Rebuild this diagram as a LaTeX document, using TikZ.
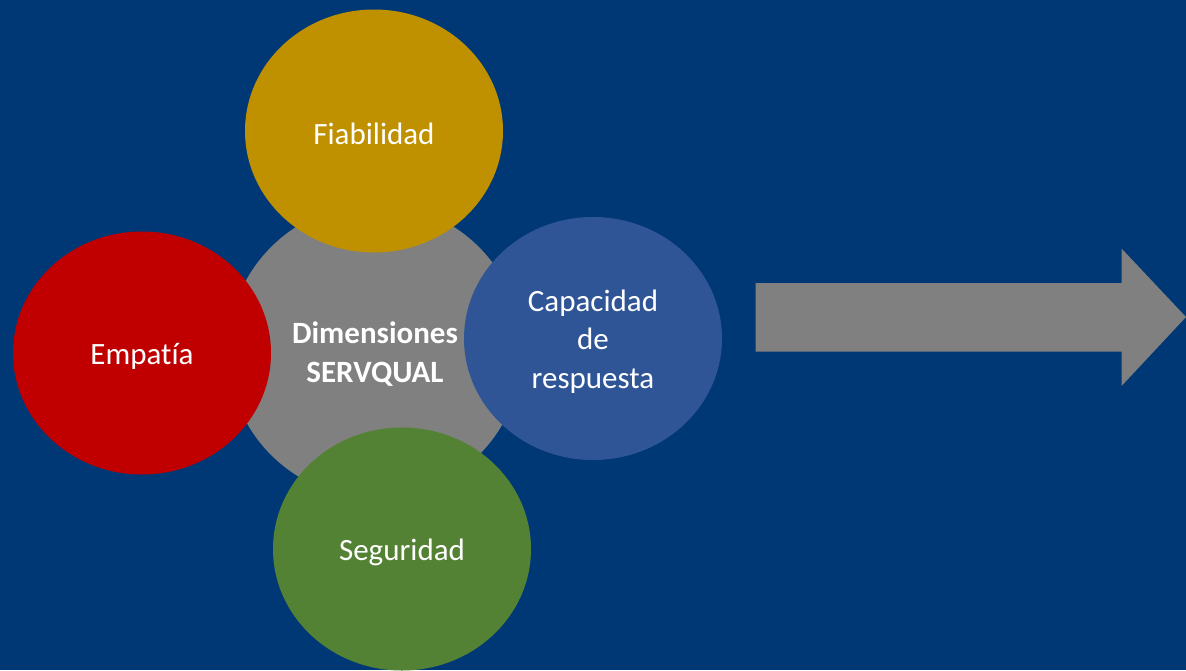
\documentclass[tikz,border=0pt]{standalone}
\usepackage{fontspec}
\setmainfont[Ligatures={NoCommon,NoDiscretionary}]{Carlito}
\usetikzlibrary{shapes.geometric}
\definecolor{bgblue}{HTML}{003876}
\definecolor{cgray}{HTML}{808080}
\definecolor{cgold}{HTML}{BF9000}
\definecolor{cred}{HTML}{C00000}
\definecolor{cblue}{HTML}{2F5597}
\definecolor{cgreen}{HTML}{548235}
\tikzset{
  bubble/.style={ellipse, draw=none, inner sep=0pt, minimum width=258pt, minimum height=243pt},
  btext/.style={text=white, align=center, inner sep=0pt, yshift=-3pt, font=\fontsize{31}{38.5}\selectfont},
}
\begin{document}
\begin{tikzpicture}[x=1pt,y=-1pt]
\fill[bgblue] (0,0) rectangle (1186,670);
\useasboundingbox (0,0) rectangle (1186,670);
\node[bubble, fill=cgray, minimum width=294pt, minimum height=294pt] (center) at (375,351) {};
\node[bubble, fill=cgold] (fia) at (374,131) {};
\node[bubble, fill=cred] (emp) at (142,353) {};
\node[bubble, fill=cblue] (cap) at (593,338.5) {};
\node[bubble, fill=cgreen] (seg) at (402,549) {};
\node[btext, font=\bfseries\fontsize{31}{38.5}\selectfont] (lcenter) at (center.center) {Dimensiones\\SERVQUAL};
\node[btext] (lfia) at (fia.center) {Fiabilidad};
\node[btext] (lemp) at (emp.center) {Empatía};
\node[btext] (lcap) at (cap.center) {Capacidad\\de\\respuesta};
\node[btext] (lseg) at (seg.center) {Seguridad};
\fill[cgray] (755.5,283) -- (1121.5,283) -- (1121.5,248.5) -- (1186,317) -- (1121.5,386) -- (1121.5,351.5) -- (755.5,351.5) -- cycle;
\end{tikzpicture}
\end{document}
